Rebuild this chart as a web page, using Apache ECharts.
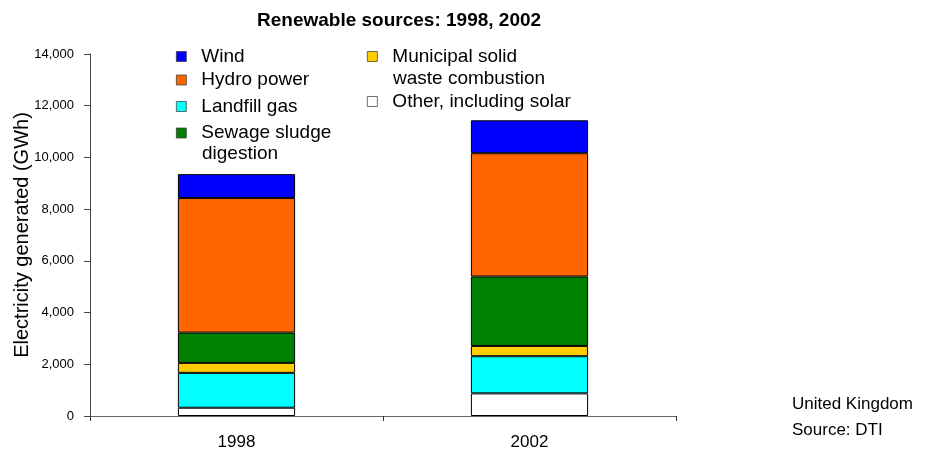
<!DOCTYPE html>
<html>
<head>
<meta charset="utf-8">
<title>Renewable sources: 1998, 2002</title>
<script src="https://cdn.jsdelivr.net/npm/echarts@6/dist/echarts.min.js"></script>
<style>
  html, body { margin: 0; padding: 0; background: #fff; }
  #chart { width: 936px; height: 455px; }
</style>
</head>
<body>
<div id="chart"></div>
<script>
// values (GWh)
const years = ['1998', '2002'];
const otherSolar = [320, 875];
const landfillGas = [1349, 1437];
const municipalWaste = [385, 397];
const sewageSludge = [1172, 2687];
const hydroPower = [5203, 4767];
const windPower = [925, 1272];
const yTicks = [0, 2000, 4000, 6000, 8000, 10000, 12000, 14000];

const FONT = '"Liberation Sans", Arial, sans-serif';

const chart = echarts.init(document.getElementById('chart'));

// one legend per entry so the two columns can be placed like the original
function legendEntry(name, left, top, label) {
    return {
        data: [name],
        left: left,
        top: top,
        padding: 0,
        icon: 'rect',
        itemWidth: 10,
        itemHeight: 10,
        itemStyle: { borderColor: '#333', borderWidth: 0.7 },
        selectedMode: false,
        formatter: function () { return label; },
        textStyle: {
            fontFamily: FONT,
            fontSize: 19,
            color: '#000',
            lineHeight: 23,
            padding: [0, 0, 0, 10]
        }
    };
}

// second line of a wrapped legend label
function legendWrap(text, left, top) {
    return {
        type: 'text',
        left: left,
        top: top,
        style: { text: text, font: '19px ' + FONT, fill: '#000' }
    };
}

function barSeries(name, values, color) {
    return {
        name: name,
        type: 'bar',
        stack: 'total',
        barWidth: '40%',
        data: values,
        itemStyle: {
            color: color,
            borderColor: '#000',
            borderWidth: 1
        }
    };
}

const option = {
    animation: false,
    textStyle: { fontFamily: FONT },
    title: {
        text: 'Renewable sources: 1998, 2002',
        left: 252,
        top: 6,
        textStyle: { fontFamily: FONT, fontSize: 19, fontWeight: 'bold', color: '#000' }
    },
    legend: [
        legendEntry('Wind', 176, 45, 'Wind'),
        legendEntry('Hydro power', 176, 68.5, 'Hydro power'),
        legendEntry('Landfill gas', 176, 95, 'Landfill gas'),
        legendEntry('Sewage sludge digestion', 176, 121.5, 'Sewage sludge'),
        legendEntry('Municipal solid waste combustion', 367, 45, 'Municipal solid'),
        legendEntry('Other, including solar', 367, 90, 'Other, including solar')
    ],
    grid: {
        left: 90,
        right: 260,
        top: 54,
        bottom: 39,
        outerBoundsMode: 'none'
    },
    xAxis: {
        type: 'category',
        data: years,
        axisLine: { lineStyle: { color: '#666', width: 1 } },
        axisTick: { show: true, length: 5, lineStyle: { color: '#333' } },
        axisLabel: { fontSize: 17, color: '#000', margin: 18 }
    },
    yAxis: {
        type: 'value',
        min: yTicks[0],
        max: yTicks[yTicks.length - 1],
        interval: yTicks[1] - yTicks[0],
        name: 'Electricity generated (GWh)',
        nameLocation: 'middle',
        nameGap: 58,
        nameMoveOverlap: false,
        nameTextStyle: { fontSize: 20, color: '#000' },
        splitLine: { show: false },
        axisLine: { show: true, lineStyle: { color: '#444', width: 1 } },
        axisTick: { show: true, length: 6, lineStyle: { color: '#444' } },
        axisLabel: {
            fontSize: 13,
            color: '#000',
            margin: 16,
            formatter: function (v) { return v.toLocaleString('en-US'); }
        }
    },
    graphic: [
        legendWrap('digestion', 202, 144),
        legendWrap('waste combustion', 393, 69),
        {
            type: 'text',
            left: 792,
            top: 396,
            style: { text: 'United Kingdom', font: '17px ' + FONT, fill: '#000' }
        },
        {
            type: 'text',
            left: 792,
            top: 422,
            style: { text: 'Source: DTI', font: '17px ' + FONT, fill: '#000' }
        }
    ],
    series: [
        barSeries('Other, including solar', otherSolar, '#ffffff'),
        barSeries('Landfill gas', landfillGas, '#00ffff'),
        barSeries('Municipal solid waste combustion', municipalWaste, '#ffcc00'),
        barSeries('Sewage sludge digestion', sewageSludge, '#008000'),
        barSeries('Hydro power', hydroPower, '#ff6600'),
        barSeries('Wind', windPower, '#0000ff')
    ]
};

chart.setOption(option);
</script>
</body>
</html>
